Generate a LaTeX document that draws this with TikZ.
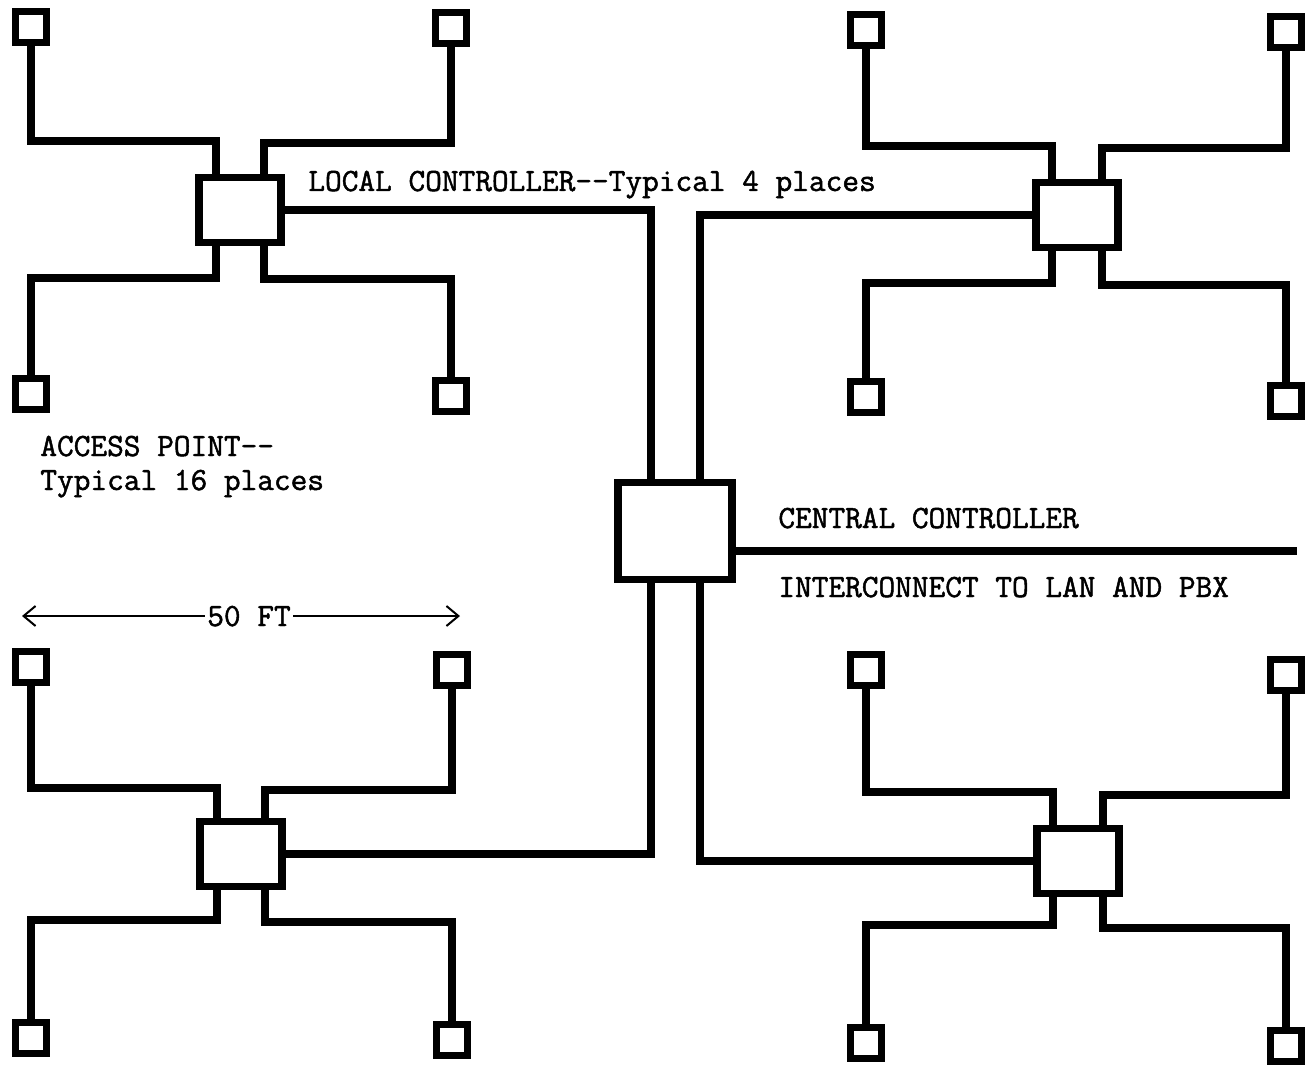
\documentclass[tikz,border=0pt]{standalone}
\usepackage{fontspec}
\newfontfamily\twfont[FakeBold=1.5,AutoFakeBold=1.5]{Latin Modern Mono}
\usetikzlibrary{arrows.meta}
\begin{document}
\begin{tikzpicture}[x=0.5pt,y=-0.5pt,
  wire/.style={line width=3.6pt,line join=miter},
  ap/.style={draw,line width=3.8pt,minimum size=15.5pt,inner sep=0pt},
  lc/.style={draw,line width=3.6pt,minimum width=41pt,minimum height=32.5pt,inner sep=0pt},
  cc/.style={draw,line width=3.6pt,minimum width=57pt,minimum height=48.5pt,inner sep=0pt},
  lbl/.style={anchor=base west,inner sep=0pt,font=\fontsize{16.2}{18}\selectfont\twfont\bfseries},
  dim/.style={line width=1pt,-{Straight Barb[length=6pt,width=10pt,line width=1pt]}}]
\useasboundingbox (0,0) rectangle (1312,1065);
% central controller
\node[cc] (cc) at (675,531) {};
% local controllers
\node[lc] (l1) at (240,210) {};
\node[lc] (l2) at (1077,215) {};
\node[lc] (l3) at (241,854) {};
\node[lc] (l4) at (1078,861) {};
% access points
\node[ap] (a11) at (31,27) {};
\node[ap] (a12) at (451,28) {};
\node[ap] (a13) at (31,394) {};
\node[ap] (a14) at (451,396) {};
\node[ap] (a21) at (866,30) {};
\node[ap] (a22) at (1286,32) {};
\node[ap] (a23) at (866,397) {};
\node[ap] (a24) at (1286,401) {};
\node[ap] (a31) at (31,667) {};
\node[ap] (a32) at (452,670) {};
\node[ap] (a33) at (31,1038) {};
\node[ap] (a34) at (452,1040) {};
\node[ap] (a41) at (866,670) {};
\node[ap] (a42) at (1286,675) {};
\node[ap] (a43) at (866,1043) {};
\node[ap] (a44) at (1286,1046) {};
% wires cluster 1
\draw[wire] (a11.south) -- (a11.south |- 0,141) -| ([xshift=-12pt]l1.north);
\draw[wire] (a12.south) -- (a12.south |- 0,143) -| ([xshift=12pt]l1.north);
\draw[wire] (a13.north) -- (a13.north |- 0,278) -| ([xshift=-12pt]l1.south);
\draw[wire] (a14.north) -- (a14.north |- 0,279) -| ([xshift=12pt]l1.south);
% wires cluster 2
\draw[wire] (a21.south) -- (a21.south |- 0,146) -| ([xshift=-12.5pt]l2.north);
\draw[wire] (a22.south) -- (a22.south |- 0,148) -| ([xshift=12.5pt]l2.north);
\draw[wire] (a23.north) -- (a23.north |- 0,283) -| ([xshift=-12.5pt]l2.south);
\draw[wire] (a24.north) -- (a24.north |- 0,285) -| ([xshift=12.5pt]l2.south);
% wires cluster 3
\draw[wire] (a31.south) -- (a31.south |- 0,788) -| ([xshift=-12pt]l3.north);
\draw[wire] (a32.south) -- (a32.south |- 0,790) -| ([xshift=12pt]l3.north);
\draw[wire] (a33.north) -- (a33.north |- 0,920) -| ([xshift=-12pt]l3.south);
\draw[wire] (a34.north) -- (a34.north |- 0,922) -| ([xshift=12pt]l3.south);
% wires cluster 4
\draw[wire] (a41.south) -- (a41.south |- 0,792) -| ([xshift=-12.5pt]l4.north);
\draw[wire] (a42.south) -- (a42.south |- 0,795) -| ([xshift=12.5pt]l4.north);
\draw[wire] (a43.north) -- (a43.north |- 0,925) -| ([xshift=-12.5pt]l4.south);
\draw[wire] (a44.north) -- (a44.north |- 0,928) -| ([xshift=12.5pt]l4.south);
% local to central
\draw[wire] (l1.east) -| ([xshift=-12pt]cc.north);
\draw[wire] (l2.west) -| ([xshift=12.5pt]cc.north);
\draw[wire] (l3.east) -| ([xshift=-12pt]cc.south);
\draw[wire] (l4.west) -| ([xshift=12.5pt]cc.south);
% interconnect
\coordinate (lan) at (1297,551);
\draw[wire] ([yshift=-10pt]cc.east) -- (lan);
% labels
\node[lbl] (tlocal) at (308,191) {LOCAL CONTROLLER--Typical 4 places};
\node[lbl] (tap1) at (40,456) {ACCESS POINT--};
\node[lbl] (tap2) at (40,490) {Typical 16 places};
\node[lbl] (tcc) at (778,528) {CENTRAL CONTROLLER};
\node[lbl] (tlan) at (778,597) {INTERCONNECT TO LAN AND PBX};
% dimension
\node[lbl,anchor=base,inner sep=1pt] (ft) at (249,626) {50 FT};
\coordinate (dimL) at (22,616);
\coordinate (dimR) at (460,616);
\draw[dim] (ft.west |- dimL) -- (dimL);
\draw[dim] (ft.east |- dimR) -- (dimR);
\end{tikzpicture}
\end{document}
